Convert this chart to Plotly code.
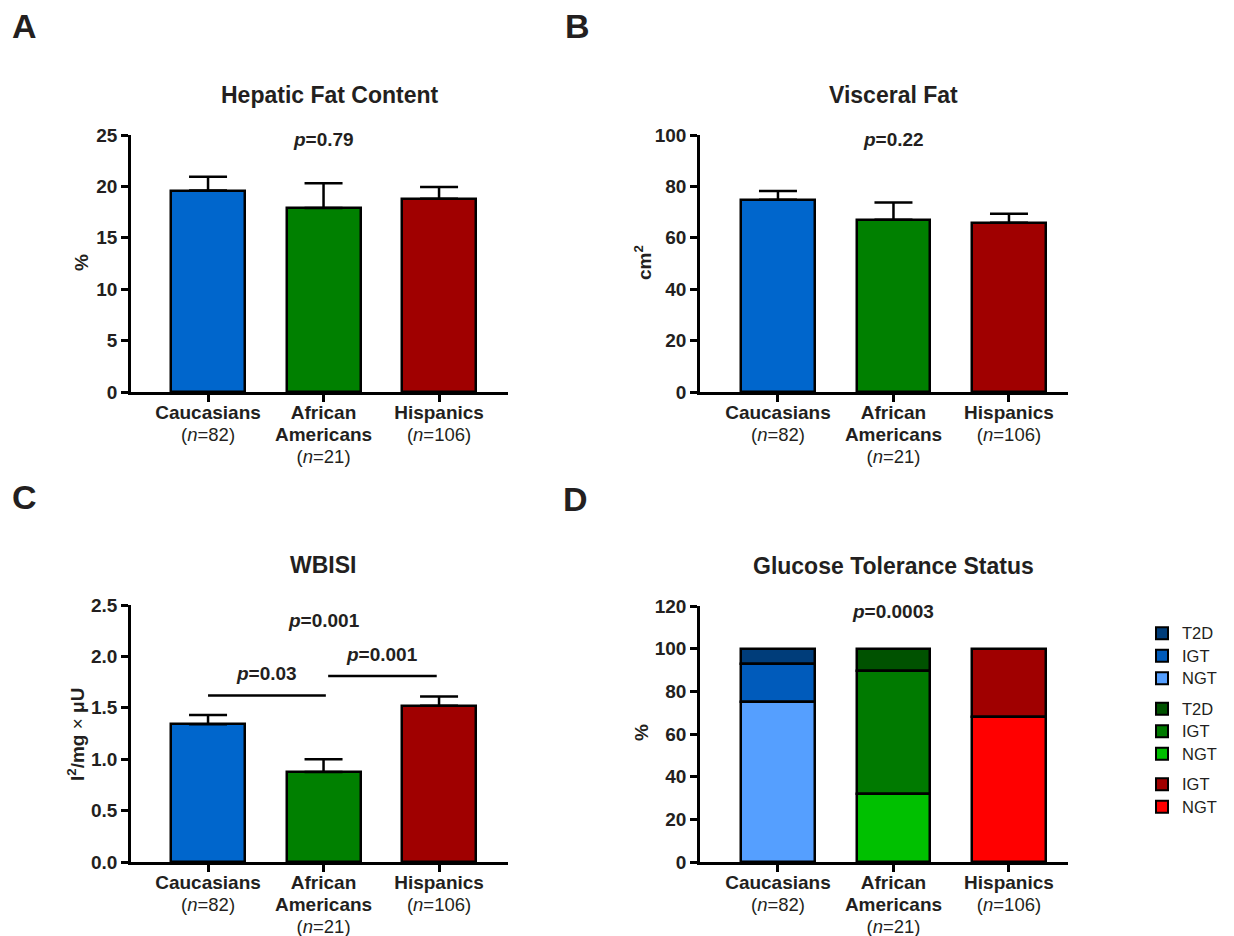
import plotly.graph_objects as go

W, H = 1234, 936
FONT = "Liberation Sans, Arial, Helvetica, sans-serif"
INK = "#231f20"

# ---------------- data ----------------
groups = ["Caucasians", "African Americans", "Hispanics"]
group_n = [82, 21, 106]
group_colors = ["#0066cc", "#008000", "#a00000"]

hepatic_fat = [19.6, 17.9, 18.8]
hepatic_err = [1.35, 2.4, 1.15]

visceral_fat = [74.8, 67.0, 65.9]
visceral_err = [3.4, 6.7, 3.5]

wbisi = [1.34, 0.875, 1.52]
wbisi_err = [0.09, 0.125, 0.09]
wbisi_sig = [(0, 1, 1.62, "0.03"), (1, 2, 1.81, "0.001")]

p_hepatic = "0.79"
p_visceral = "0.22"
p_wbisi = "0.001"
p_glucose = "0.0003"

# glucose tolerance status (%), stacked bottom->top
gts_status = ["NGT", "IGT", "T2D"]
gts_cauc = [75, 18, 7]
gts_afam = [32, 57.5, 10.5]
gts_hisp = [68, 32, 0]
gts_colors = {
    0: ["#559fff", "#005bbb", "#003d7a"],
    1: ["#00c000", "#007a00", "#005200"],
    2: ["#ff0000", "#a00000", None],
}
group_label_lines = [["Caucasians"], ["African", "Americans"], ["Hispanics"]]

B_SPAN = "<span style='font-size:19px'><b>%s</b></span>"
R_SPAN = "<span style='font-size:18.5px'>(<i>n</i>=%d)</span>"
tick_text = ["<br>".join([B_SPAN % s for s in lines] + [R_SPAN % n])
             for lines, n in zip(group_label_lines, group_n)]

# ---------------- helpers (page has an 8px body margin) ----------------
OFF = 8

def xp(px):
    return (px - OFF) / W

def yp(py):
    return 1 - (py - OFF) / H

fig = go.Figure()
xs = list(range(len(groups)))
BW = 0.64

def bar_panel(vals, errs, xa, ya):
    fig.add_trace(go.Bar(
        x=xs, y=vals, width=BW, xaxis=xa, yaxis=ya,
        marker=dict(color=group_colors, line=dict(color="black", width=2.5)),
        error_y=dict(type="data", symmetric=False, array=errs,
                     arrayminus=[0] * len(errs), color="black",
                     thickness=2.5, width=19),
        showlegend=False, hoverinfo="skip",
    ))

bar_panel(hepatic_fat, hepatic_err, "x", "y")
bar_panel(visceral_fat, visceral_err, "x2", "y2")
bar_panel(wbisi, wbisi_err, "x3", "y3")

# stacked panel D with explicit bases
stacks = [gts_cauc, gts_afam, gts_hisp]
rank = 1
for gi, stack in enumerate(stacks):
    entries = []
    base = 0
    for si, v in enumerate(stack):
        if v > 0:
            entries.append((si, v, base))
        base += v
    for si, v, b in reversed(entries):
        fig.add_trace(go.Bar(
            x=[gi], y=[v], base=[b], width=BW, xaxis="x4", yaxis="y4",
            name="<span style='font-size:16.5px'>%s</span>" % gts_status[si],
            legendgroup="g%d" % gi, legendrank=rank,
            marker=dict(color=gts_colors[gi][si], line=dict(color="black", width=2.5)),
            hoverinfo="skip",
        ))
        rank += 1

axis_common = dict(showline=True, linecolor="black", linewidth=2.5,
                   ticks="outside", ticklen=7, tickwidth=2.5, tickcolor="black",
                   showgrid=False, zeroline=False, fixedrange=True, automargin=False)

def set_axes(n, xdom, ydom, xrange, yrange, dtick, fmt=None):
    xk = "xaxis" if n == 1 else "xaxis%d" % n
    yk = "yaxis" if n == 1 else "yaxis%d" % n
    ya = "y" if n == 1 else "y%d" % n
    xa = "x" if n == 1 else "x%d" % n
    fig.layout[xk] = dict(axis_common, domain=xdom, range=xrange, anchor=ya,
                          tickvals=xs, ticktext=tick_text, ticklabelstandoff=-3,
                          tickfont=dict(family=FONT, size=17, color=INK))
    ydict = dict(axis_common, domain=ydom, range=yrange, anchor=xa, dtick=dtick,
                 tick0=0, tickfont=dict(family=FONT, size=19, color=INK, weight="bold"))
    if fmt:
        ydict["tickformat"] = fmt
    fig.layout[yk] = ydict

set_axes(1, [xp(131), xp(508)], [yp(392), yp(135)], [-0.667, 2.597], [0, 25], 5)
set_axes(2, [xp(700), xp(1068)], [yp(392), yp(135)], [-0.675, 2.511], [0, 100], 20)
set_axes(3, [xp(131), xp(508)], [yp(862), yp(605)], [-0.667, 2.597], [0, 2.5], 0.5, ".1f")
set_axes(4, [xp(700), xp(1068)], [yp(862), yp(606)], [-0.675, 2.511], [0, 120], 20)

ann = []
def text(x, y, s, size, xref="paper", yref="paper", angle=0, xanchor="center", yanchor="middle"):
    ann.append(dict(x=x, y=y, text=s, xref=xref, yref=yref, showarrow=False,
                    textangle=angle, xanchor=xanchor, yanchor=yanchor,
                    font=dict(family=FONT, size=size, color=INK)))

# panel letters
for letter, px, py in [("A", 10, 26), ("B", 563, 26), ("C", 10, 497), ("D", 561, 499)]:
    text(xp(px), yp(py), "<b>%s</b>" % letter, 34, xanchor="left")

# titles
text(xp(330), yp(95), "<b>Hepatic Fat Content</b>", 23)
text(xp(893), yp(95), "<b>Visceral Fat</b>", 23)
text(xp(323), yp(565), "<b>WBISI</b>", 23)
text(xp(893), yp(566), "<b>Glucose Tolerance Status</b>", 23)

# axis titles
text(xp(82), yp(263), "<b>%</b>", 19, angle=-90)
text(xp(643), yp(263), "<b>cm<sup>2</sup></b>", 19, angle=-90)
text(xp(76), yp(735), "<b>l<sup>2</sup>/mg</b> × <b>μU</b>", 19, angle=-90)
text(xp(641), yp(733), "<b>%</b>", 19, angle=-90)

# p-values
text(1, yp(140), "<b><i>p</i>=%s</b>" % p_hepatic, 19, xref="x")
text(1, yp(140), "<b><i>p</i>=%s</b>" % p_visceral, 19, xref="x2")
text(1, yp(620), "<b><i>p</i>=%s</b>" % p_wbisi, 19, xref="x3")
text(1, yp(611), "<b><i>p</i>=%s</b>" % p_glucose, 19, xref="x4")

shapes = []
for a, b, yv, pv in wbisi_sig:
    x0 = a if a == 0 else a + 0.04
    x1 = b + 0.02 if a == 0 else b - 0.02
    shapes.append(dict(type="line", xref="x3", yref="y3", x0=x0, x1=x1,
                       y0=yv, y1=yv, line=dict(color="black", width=2.5)))
    text((x0 + x1) / 2, yv + 0.21, "<b><i>p</i>=%s</b>" % pv, 19, xref="x3", yref="y3")

fig.update_layout(
    width=W, height=H, autosize=False,
    margin=dict(l=0, r=0, t=0, b=0, pad=0, autoexpand=False),
    paper_bgcolor="white", plot_bgcolor="white",
    barmode="overlay", bargap=0,
    annotations=ann, shapes=shapes,
    showlegend=True,
    legend=dict(x=xp(1142), y=yp(617), xanchor="left", yanchor="top",
                traceorder="grouped", tracegroupgap=8,
                font=dict(family=FONT, size=15, color=INK),
                itemsizing="constant", bgcolor="rgba(0,0,0,0)"),
    font=dict(family=FONT, color=INK),
)

fig.write_html("out.html")
